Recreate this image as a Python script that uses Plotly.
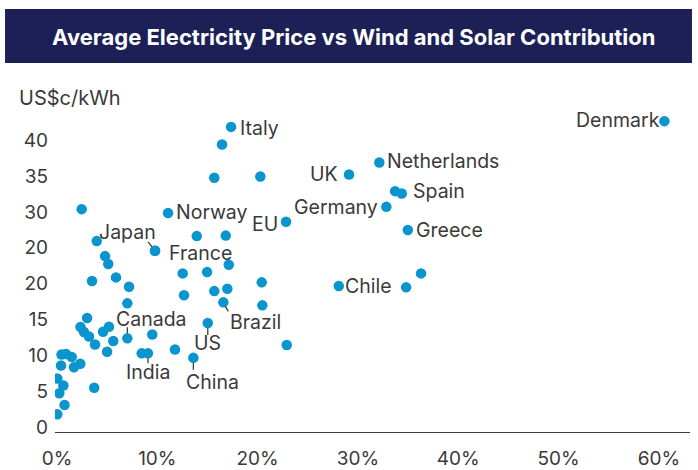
import plotly.graph_objects as go

# ---- data ----
countries = [
    "Denmark", "Italy", "", "", "", "Netherlands", "UK", "", "Spain", "Germany",
    "Greece", "EU", "Norway", "", "", "", "Japan", "France", "", "",
    "", "", "", "", "", "", "", "", "Brazil", "",
    "US", "China", "", "", "India", "", "Canada", "", "", "",
    "", "", "Chile", "", "", "", "", "", "", "",
    "", "", "", "", "", "", "", "", "", "",
    "", "", "", "", "", "",
]
wind_solar_share = [
    60.55, 17.35, 16.45, 15.68, 20.27, 32.13, 29.11, 33.70, 34.37, 32.83,
    34.97, 22.83, 11.07, 2.46, 13.93, 16.82, 9.77, 9.77, 3.96, 4.79,
    5.11, 17.12, 12.53, 14.96, 20.41, 12.66, 15.68, 16.98, 16.58, 20.47,
    15.03, 13.59, 11.76, 9.50, 9.07, 8.44, 7.01, 7.01, 7.18, 5.88,
    3.49, 22.90, 28.09, 34.80, 36.29, 3.00, 2.34, 2.69, 3.19, 3.79,
    4.59, 5.18, 5.61, 4.99, 0.45, 0.90, 1.47, 0.40, 1.69, 2.32,
    3.71, 0.03, 0.63, 0.23, 0.75, 0.03,
]
avg_price = [
    42.65, 41.85, 39.40, 34.75, 34.94, 36.89, 35.22, 32.89, 32.57, 30.70,
    27.46, 28.61, 29.83, 30.38, 26.62, 26.69, 24.57, 24.57, 25.92, 23.83,
    22.72, 22.62, 21.42, 21.60, 20.17, 18.36, 18.95, 19.28, 17.38, 16.96,
    14.49, 9.64, 10.80, 12.89, 10.27, 10.27, 12.36, 17.24, 19.55, 20.86,
    20.35, 11.43, 19.65, 19.47, 21.42, 15.20, 13.94, 13.24, 12.61, 11.50,
    13.28, 13.98, 11.99, 10.49, 10.10, 10.17, 9.76, 8.57, 8.32, 8.82,
    5.48, 6.76, 5.78, 4.70, 3.07, 1.77,
]
x_tick_vals = [0, 10, 20, 30, 40, 50, 60]
x_tick_text = ["0%", "10%", "20%", "30%", "40%", "50%", "60%"]
y_tick_vals = [0, 5, 10, 15, 20, 25, 30, 35, 40]
y_tick_text = ["0", "5", "10", "15", "20", "20", "30", "35", "40"]

title_text = "Average Electricity Price vs Wind and Solar Contribution"
y_unit = "US$c/kWh"

# ---- styles ----
DOT = "#0a95cf"
NAVY = "#1c2056"
TXT = "#3a3a3a"
FONT = "Inter"
LBL = 19.5

# label placement: (xanchor, xshift, yshift, leader line [dx0, dy0, dx1, dy1] or None)
label_style = {
    "Denmark": ("right", -2, 1, None),
    "Italy": ("left", 7, -1, None),
    "Netherlands": ("left", 6, 1, None),
    "UK": ("right", -9, 0, None),
    "Spain": ("left", 9, 2, None),
    "Germany": ("right", -6, 0, None),
    "Greece": ("left", 6, 0, None),
    "EU": ("right", -6, -2, None),
    "Norway": ("left", 6, 1, None),
    "Chile": ("left", 4, 0, None),
    "Japan": ("right", 3, 19, (-3, 4, -7, 9)),
    "France": ("left", 12, -2, None),
    "Canada": ("left", -13, 19, (0, 5, 0, 11)),
    "India": ("center", 0, -19, (0, -5, 0, -10)),
    "US": ("center", 0, -20, (0, -5, 0, -12)),
    "China": ("left", -9, -24, (0, -5, 0, -12)),
    "Brazil": ("left", 5, -20, (2, -4, 5, -9)),
}

fig = go.Figure()
fig.add_trace(go.Scatter(
    x=wind_solar_share, y=avg_price, mode="markers",
    marker=dict(color=DOT, size=10.5, line=dict(width=0)),
    hoverinfo="skip", showlegend=False,
))

annotations = []
shapes = []
for name, xv, yv in zip(countries, wind_solar_share, avg_price):
    if not name:
        continue
    xa, xs, ys, leader = label_style[name]
    annotations.append(dict(
        x=xv, y=yv, xref="x", yref="y", text=name, showarrow=False,
        xanchor=xa, yanchor="middle", xshift=xs, yshift=ys,
        font=dict(family=FONT, size=LBL, color=TXT),
    ))
    if leader:
        shapes.append(dict(
            type="line", xref="x", yref="y", xsizemode="pixel", ysizemode="pixel",
            xanchor=xv, yanchor=yv, x0=leader[0], y0=leader[1], x1=leader[2], y1=leader[3],
            line=dict(color="#333333", width=1.2),
        ))

# title band
shapes.append(dict(type="rect", xref="paper", yref="paper",
                   x0=-0.0787, x1=1.0031, y0=1.1114, y1=1.2741,
                   fillcolor=NAVY, line=dict(width=0), layer="below"))
annotations.append(dict(x=0.4709, y=1.1898, xref="paper", yref="paper",
                        text="<b>" + title_text + "</b>", showarrow=False,
                        xanchor="center", yanchor="middle",
                        font=dict(family="Inter", size=22, color="white")))
annotations.append(dict(x=0, y=1, xref="paper", yref="paper", text=y_unit,
                        showarrow=False, xanchor="left", yanchor="middle",
                        xshift=-38, yshift=2,
                        font=dict(family=FONT, size=20, color=TXT)))

fig.update_layout(
    width=698, height=470,
    margin=dict(l=55, r=8, t=100, b=38, autoexpand=False),
    paper_bgcolor="white", plot_bgcolor="white",
    font=dict(family=FONT, size=19, color=TXT),
    annotations=annotations, shapes=shapes,
    xaxis=dict(range=[-0.2, 63.1], tickmode="array", tickvals=x_tick_vals,
               ticktext=x_tick_text,
               showgrid=False, zeroline=False, showline=True,
               linecolor="#3a3a3a", linewidth=1.2, ticks="",
               ticklabelstandoff=9, automargin=False,
               tickfont=dict(family=FONT, size=19, color=TXT)),
    yaxis=dict(range=[-0.7, 45.6], tickmode="array", tickvals=y_tick_vals,
               ticktext=y_tick_text,
               showgrid=False, zeroline=False, showline=False, ticks="",
               ticklabelstandoff=6, automargin=False,
               tickfont=dict(family=FONT, size=19, color=TXT)),
)

fig.write_html("out.html", config={"displayModeBar": False},
               post_script="document.body.style.margin='0';document.body.style.padding='0';")
